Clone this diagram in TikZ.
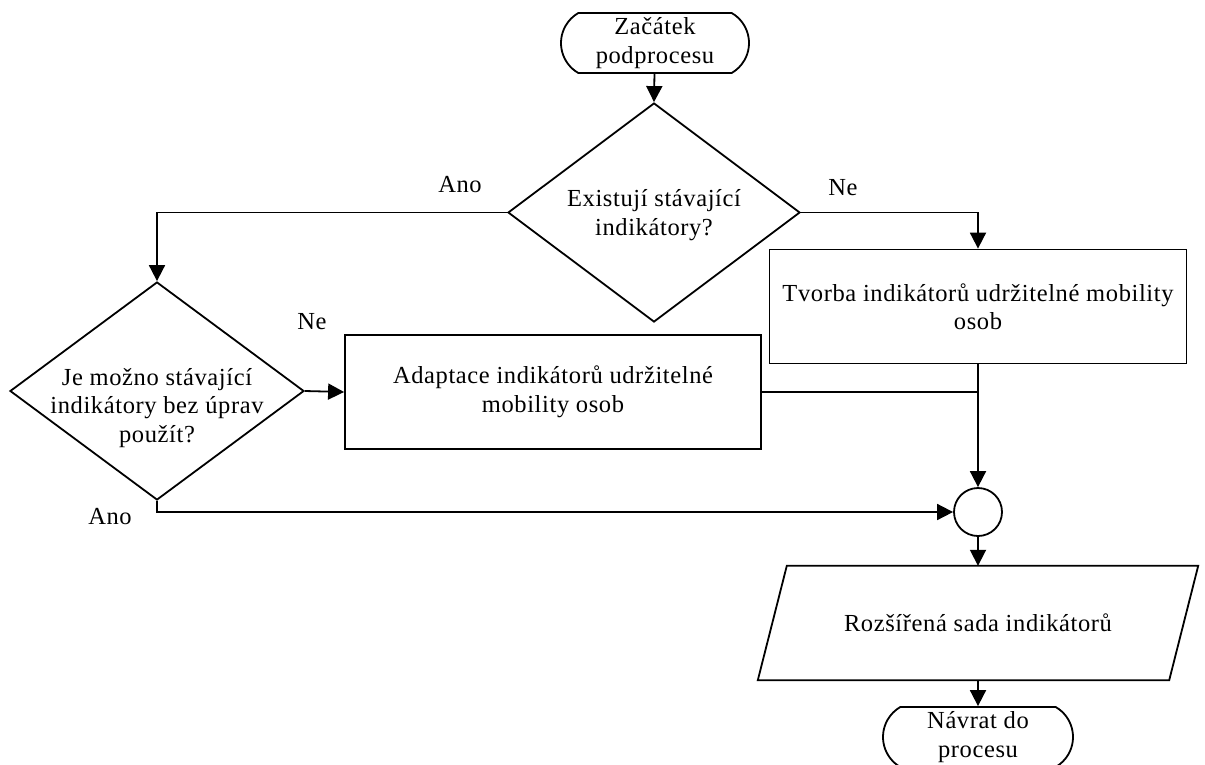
\documentclass[tikz,border=0pt]{standalone}
\usepackage{fontspec}
\setmainfont{Liberation Serif}[LetterSpace=2.5]
\usetikzlibrary{shapes.geometric,shapes.misc,arrows.meta,calc}

\begin{document}
\begin{tikzpicture}[x=1pt,y=-1pt,
  every node/.style={font=\fontsize{24.5}{28.5}\selectfont},
  lw/.style={line width=1.8pt},
  term/.style={lw, draw, rounded rectangle, rounded rectangle arc length=120,
    minimum height=60pt, inner sep=0pt, align=center},
  procbox/.style={lw, draw, rectangle, minimum width=417pt, minimum height=114pt,
    inner sep=0pt, align=center},
  decision/.style={lw, draw, diamond, inner sep=0pt},
  txt/.style={inner sep=0pt, align=center},
  junction/.style={lw, draw, circle, minimum size=48pt, inner sep=0pt},
  arr/.style={lw, -{Triangle[width=16pt,length=16pt]}},
  plain/.style={lw}]

\useasboundingbox (0,0) rectangle (1205,764);

% shapes
\node[term, minimum width=188pt] (start) at (655,43) {Začátek\\podprocesu};
\node[decision, minimum width=292pt, minimum height=219pt] (d1) at (654,212.5) {};
\node[txt] (d1t) at (654,215) {Existují stávající\\indikátory?};
\node[procbox] (tv) at (978,306.5) {Tvorba indikátorů udržitelné mobility\\osob};
\node[decision, minimum width=294pt, minimum height=218pt] (d2) at (157,391) {};
\node[txt] (d2t) at (157,408) {Je možno stávající\\indikátory bez úprav\\použít?};
\node[procbox, minimum width=416pt] (ad) at (553,392) {Adaptace indikátorů udržitelné\\mobility osob};
\node[junction] (j) at (978,512) {};
\node[inner sep=0pt, minimum width=411pt, minimum height=114pt] (out) at (978,623) {Rozšířená sada indikátorů};
\draw[plain] ($(out.north west)+(14.5,0)$) -- ($(out.north east)+(14.5,0)$)
  -- ($(out.south east)+(-14.5,0)$) -- ($(out.south west)+(-14.5,0)$) -- cycle;
\node[term, minimum width=190pt] (end) at (978,737) {Návrat do\\procesu};

% branch labels
\node[txt] (lAno1) at (460,185) {Ano};
\node[txt] (lNe1) at (843,188) {Ne};
\node[txt] (lNe2) at (312,322) {Ne};
\node[txt] (lAno2) at (110,517) {Ano};

% connectors
\draw[arr] (start) -- (d1.north);
\draw[arr] (d1.west) -| (d2.north);
\draw[arr] (d1.east) -| (tv.north);
\draw[arr] (d2.east) -- (ad.west);
\draw[plain] (ad.east) -- (ad.east -| j.north);
\draw[arr] (tv.south) -- (j.north);
\draw[arr] (d2.south) |- (j.west);
\draw[arr] (j.south) -- (out.north);
\draw[arr] (out.south) -- (end.north);
\end{tikzpicture}
\end{document}
